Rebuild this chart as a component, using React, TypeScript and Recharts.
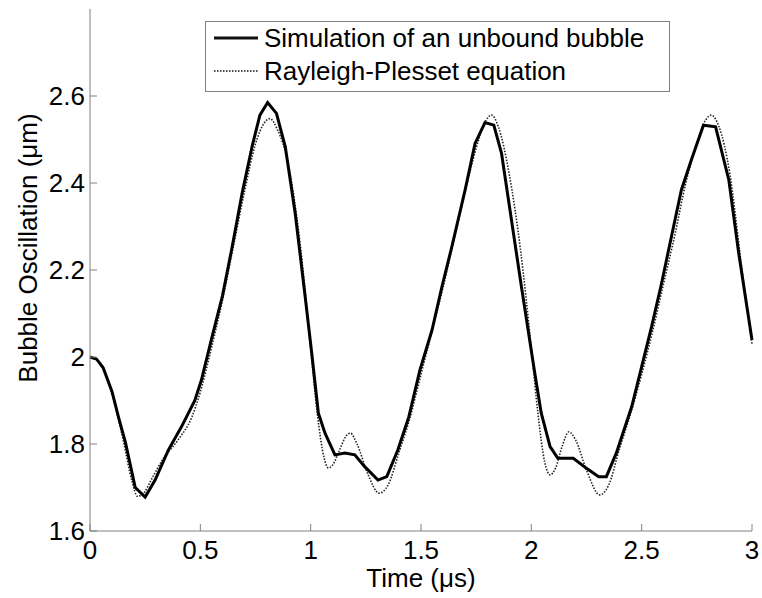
import React from "react";
import { LineChart, Line, XAxis, YAxis, Label } from "recharts";

// bubble radius vs time, simulation (sampled coarsely, piecewise linear)
const simTime = [
  0, 0.03, 0.06, 0.1, 0.13, 0.16, 0.205, 0.25, 0.295, 0.355, 0.415, 0.475, 0.505, 0.55, 0.6, 0.645,
  0.69, 0.735, 0.77, 0.805, 0.845, 0.885, 0.93, 0.975, 1.005, 1.035, 1.065, 1.11, 1.155, 1.2, 1.245,
  1.305, 1.345, 1.395, 1.445, 1.495, 1.55, 1.595, 1.64, 1.7, 1.745, 1.79, 1.83, 1.865, 1.91, 1.955,
  2.015, 2.045, 2.085, 2.12, 2.19, 2.25, 2.305, 2.34, 2.385, 2.455, 2.5, 2.545, 2.59, 2.635, 2.68,
  2.725, 2.78, 2.835, 2.895, 2.94, 3.0,
];
const simRadius = [
  2.0, 1.995, 1.975, 1.92, 1.86, 1.805, 1.7, 1.678, 1.717, 1.786, 1.84, 1.9, 1.947, 2.04, 2.14, 2.255,
  2.378, 2.485, 2.556, 2.585, 2.56, 2.483, 2.33, 2.139, 2.008, 1.871, 1.825, 1.775, 1.779, 1.775, 1.748,
  1.717, 1.725, 1.786, 1.863, 1.97, 2.062, 2.162, 2.254, 2.384, 2.491, 2.539, 2.533, 2.468, 2.315, 2.162,
  1.965, 1.871, 1.794, 1.767, 1.767, 1.744, 1.725, 1.725, 1.779, 1.886, 1.978, 2.07, 2.169, 2.277, 2.384,
  2.453, 2.533, 2.529, 2.407, 2.238, 2.039,
];

// Rayleigh-Plesset solution
const rpTime = [
  0, 0.05, 0.1, 0.15, 0.19, 0.215, 0.24, 0.28, 0.33, 0.4, 0.46, 0.5, 0.55, 0.6, 0.65, 0.7, 0.75, 0.79,
  0.815, 0.85, 0.9, 0.95, 1.0, 1.03, 1.06, 1.08, 1.1, 1.13, 1.16, 1.18, 1.21, 1.26, 1.31, 1.35, 1.4,
  1.45, 1.5, 1.55, 1.6, 1.65, 1.7, 1.75, 1.79, 1.82, 1.85, 1.9, 1.95, 2.0, 2.03, 2.06, 2.085, 2.11,
  2.14, 2.17, 2.2, 2.25, 2.31, 2.35, 2.4, 2.45, 2.5, 2.55, 2.6, 2.65, 2.7, 2.75, 2.79, 2.815, 2.85,
  2.9, 2.95, 3.0,
];
const rpRadius = [
  2.0, 1.985, 1.915, 1.81, 1.715, 1.68, 1.685, 1.72, 1.765, 1.81, 1.86, 1.92, 2.02, 2.13, 2.255, 2.38,
  2.49, 2.538, 2.548, 2.522, 2.44, 2.27, 2.02, 1.87, 1.77, 1.745, 1.752, 1.785, 1.818, 1.825, 1.8,
  1.73, 1.687, 1.705, 1.78, 1.86, 1.96, 2.06, 2.16, 2.27, 2.38, 2.48, 2.54, 2.556, 2.53, 2.42, 2.25,
  2.02, 1.87, 1.76, 1.729, 1.745, 1.795, 1.828, 1.81, 1.74, 1.683, 1.705, 1.79, 1.87, 1.96, 2.06,
  2.17, 2.28, 2.4, 2.49, 2.545, 2.556, 2.53, 2.42, 2.22, 2.03,
];

const xTicks = [0, 0.5, 1, 1.5, 2, 2.5, 3];
const yTicks = [1.6, 1.8, 2, 2.2, 2.4, 2.6];

const simData = simTime.map((t, i) => ({ t, r: simRadius[i] }));
const rpData = rpTime.map((t, i) => ({ t, r: rpRadius[i] }));

const FONT = "'Liberation Sans', Arial, Helvetica, sans-serif";
const AXIS = "#808080";
const TICK_LEN = 7;
const X_GAP = 9;
const Y_GAP = 5;

// MATLAB-style ticks pointing into the plot, drawn together with the label
function XTick(props: any) {
  const { x, y, payload } = props;
  const axisY = y - X_GAP;
  return (
    <g>
      <line x1={x} x2={x} y1={axisY} y2={axisY - TICK_LEN} stroke={AXIS} strokeWidth={1} />
      <text x={x} y={y} dy="0.72em" textAnchor="middle" fontSize={26} fontFamily={FONT} fill="#000">
        {payload.value}
      </text>
    </g>
  );
}

function YTick(props: any) {
  const { x, y, payload } = props;
  const axisX = x + Y_GAP;
  return (
    <g>
      <line x1={axisX} x2={axisX + TICK_LEN} y1={y} y2={y} stroke={AXIS} strokeWidth={1} />
      <text x={x} y={y} dy="0.36em" textAnchor="end" fontSize={26} fontFamily={FONT} fill="#000">
        {payload.value}
      </text>
    </g>
  );
}

// legend sits over the plot, kept outside the chart so it doesn't eat plot height
function LegendBox() {
  const row = (top: number, dash: string | undefined, width: number, text: string) => (
    <div style={{ position: "absolute", left: 0, top, height: 32, display: "flex", alignItems: "center" }}>
      <svg width={60} height={32} style={{ display: "block" }}>
        <line x1={8} x2={52} y1={16} y2={16} stroke="#111" strokeWidth={width} strokeDasharray={dash} />
      </svg>
      <span style={{ fontSize: 26, lineHeight: "32px", color: "#000", whiteSpace: "nowrap", marginLeft: -2 }}>
        {text}
      </span>
    </div>
  );
  return (
    <div
      style={{
        position: "absolute",
        left: 205,
        top: 21,
        width: 465,
        height: 71,
        border: `1px solid ${AXIS}`,
        boxSizing: "border-box",
        background: "#fff",
        fontFamily: FONT,
      }}
    >
      {row(0, undefined, 3, "Simulation of an unbound bubble")}
      {row(33, "1.5 1.5", 1.5, "Rayleigh-Plesset equation")}
    </div>
  );
}

export default function App() {
  return (
    <div style={{ position: "absolute", left: 0, top: 0, width: 762, height: 598, background: "#fff", fontFamily: FONT }}>
      <LineChart width={762} height={598} margin={{ top: 9, right: 10, left: 0, bottom: 0 }}>
        <XAxis
          type="number"
          dataKey="t"
          domain={[0, 3]}
          ticks={xTicks}
          allowDuplicatedCategory={false}
          height={67}
          stroke={AXIS}
          tickLine={false}
          tickSize={0}
          tickMargin={X_GAP}
          tick={<XTick />}
        >
          <Label
            content={() => (
              <text x={421} y={578} textAnchor="middle" dominantBaseline="central" fontSize={26} fontFamily={FONT} fill="#000">
                Time (μs)
              </text>
            )}
          />
        </XAxis>
        <YAxis
          type="number"
          dataKey="r"
          domain={[1.6, 2.8]}
          ticks={yTicks}
          width={90}
          stroke={AXIS}
          tickLine={false}
          tickSize={0}
          tickMargin={Y_GAP}
          tick={<YTick />}
        >
          <Label
            content={() => (
              <text
                x={28}
                y={248}
                transform="rotate(-90, 28, 248)"
                textAnchor="middle"
                dominantBaseline="central"
                fontSize={26}
                fontFamily={FONT}
                fill="#000"
              >
                Bubble Oscillation (μm)
              </text>
            )}
          />
        </YAxis>
        <Line
          data={rpData}
          dataKey="r"
          type="monotone"
          stroke="#222"
          strokeWidth={1.6}
          strokeDasharray="1.5 1.5"
          dot={false}
          isAnimationActive={false}
        />
        <Line
          data={simData}
          dataKey="r"
          type="linear"
          stroke="#000"
          strokeWidth={3}
          dot={false}
          isAnimationActive={false}
        />
      </LineChart>
      <LegendBox />
    </div>
  );
}
